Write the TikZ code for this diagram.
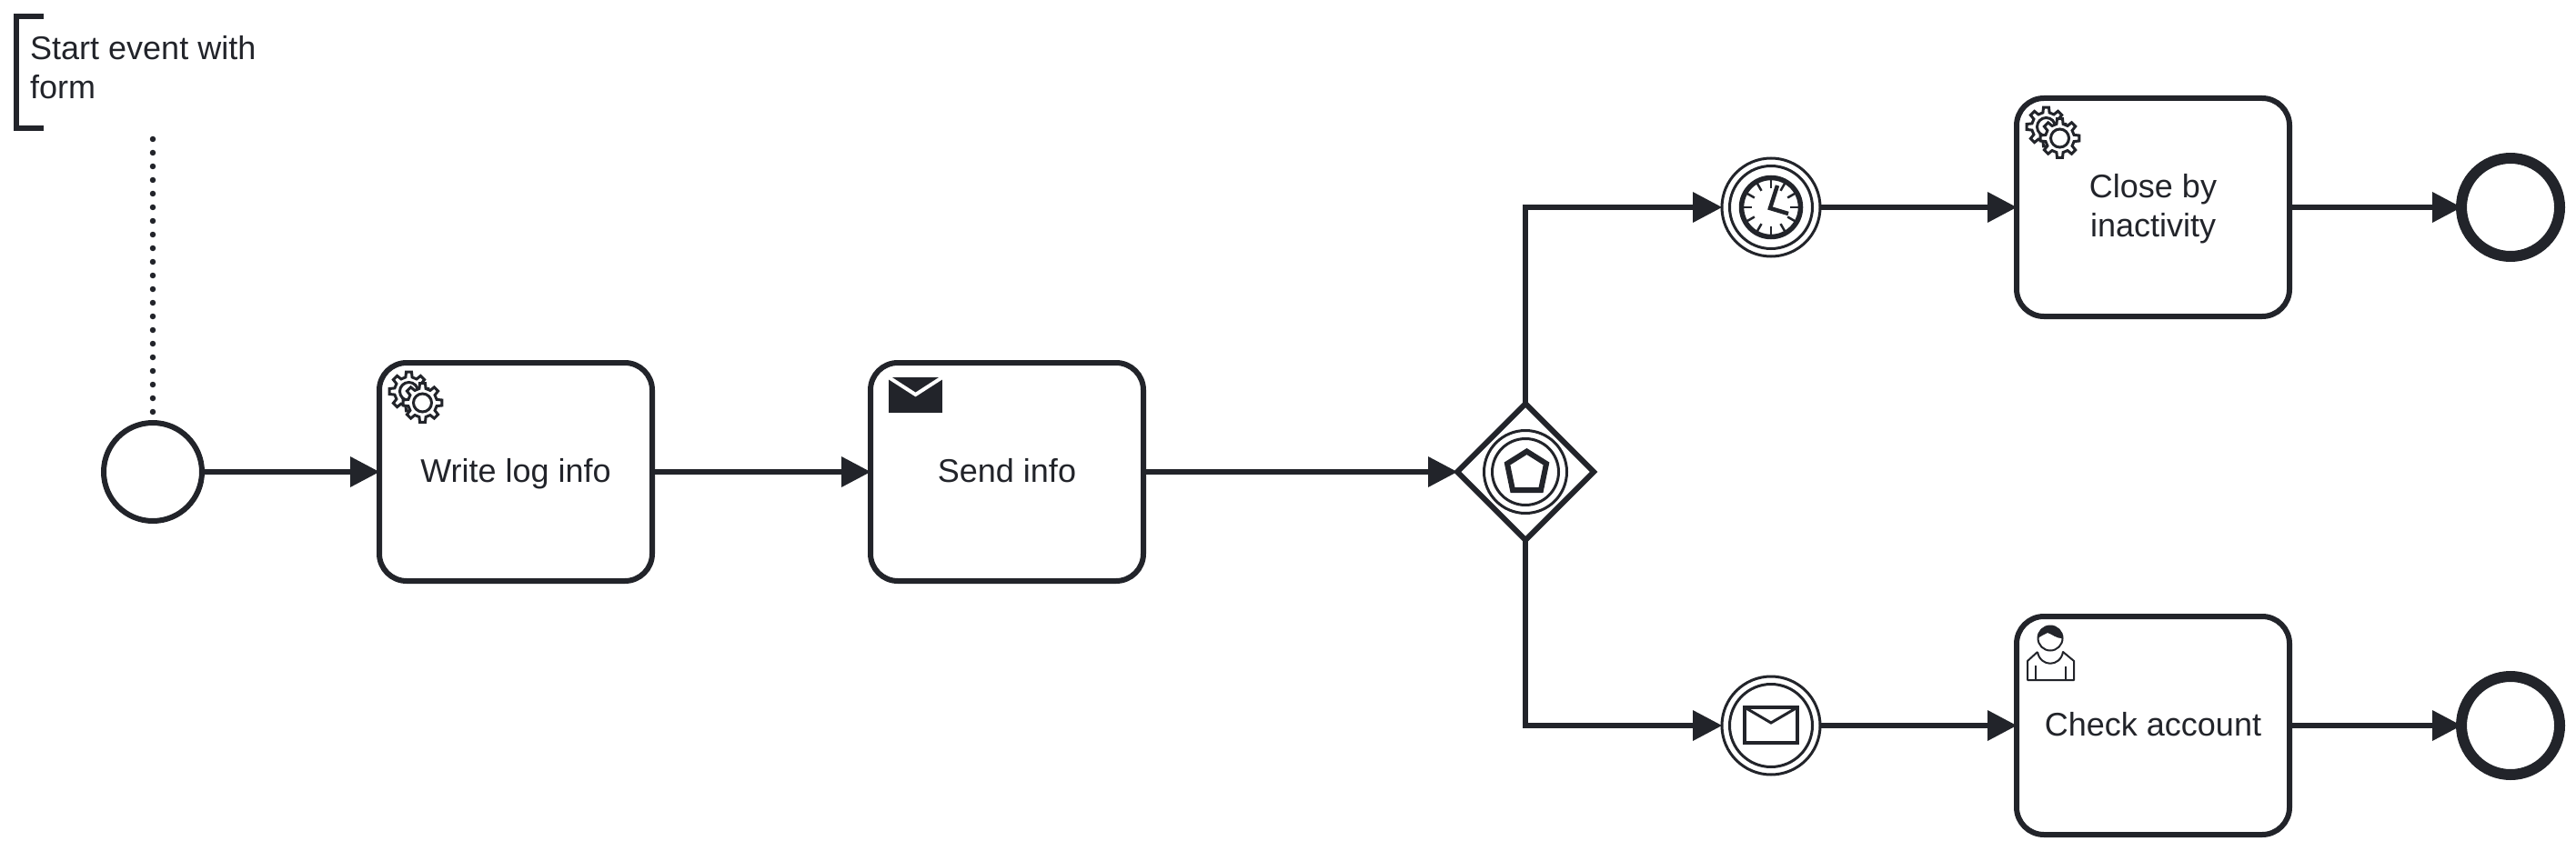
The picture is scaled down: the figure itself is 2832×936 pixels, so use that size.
\documentclass[tikz,border=0pt]{standalone}
\usepackage{fontspec}
\setmainfont{Liberation Sans}
\usetikzlibrary{arrows.meta,shapes.geometric}
\definecolor{ink}{HTML}{22242A}
\tikzset{
  base/.style={draw=ink,fill=white,outer sep=0pt,inner sep=0pt},
  task/.style={base,line width=6pt,rounded corners=30pt,minimum width=300pt,minimum height=240pt,align=center,text=ink,font=\fontsize{36}{43}\selectfont},
  oneline/.style={text height=34pt,text depth=11pt},
  startev/.style={base,circle,line width=6pt,minimum size=108pt},
  endev/.style={base,circle,line width=12pt,minimum size=108pt},
  catchev/.style={base,circle,line width=3pt,minimum size=108pt},
  gatew/.style={base,diamond,aspect=1,line width=6pt,minimum width=150pt,minimum height=150pt},
  flow/.style={draw=ink,line width=6pt,-{Triangle[length=32pt,width=34pt,line width=0pt]}},
  assoc/.style={draw=ink,line width=6.5pt,line cap=round,dash pattern=on 0pt off 15pt},
  thin icon/.style={draw=ink,line width=3pt},
}
\newcommand{\gearicon}[2]{%
  \begin{scope}[shift={(#1,#2)}]
    \draw[thin icon,fill=white,line join=miter]
      (-13:16) \foreach \a in {0,45,...,315}{ -- (\a-13:16) -- (\a-8:21.5) -- (\a+8:21.5) -- (\a+13:16) } -- cycle;
    \draw[thin icon] (0,0) circle[radius=10pt];
  \end{scope}}
\newcommand{\twogears}[1]{%
  \begin{scope}[shift={(#1)}]
    \gearicon{32.5}{31.5}
    \gearicon{47.5}{44}
  \end{scope}}
\begin{document}
\begin{tikzpicture}[x=1pt,y=-1pt]
\useasboundingbox (0,0) rectangle (2832,936);
% annotation
\draw[draw=ink,line width=6pt] (48,18) -- (18,18) -- (18,141) -- (48,141);
\node[anchor=north west,inner sep=0pt,align=left,text=ink,font=\fontsize{36}{43}\selectfont] (note) at (33,39) {Start event with\\form};
\coordinate (noteend) at (168,153);
% nodes
\node[startev] (start) at (168,519) {};
\node[task,oneline] (t1) at (567,519) {Write log info};
\node[task,oneline] (t2) at (1107,519) {Send info};
\node[gatew] (gw) at (1677,519) {};
\node[catchev] (timer) at (1947,228) {};
\node[catchev] (msg) at (1947,798) {};
\node[task] (t3) at (2367,228) {\rule{0pt}{30pt}Close by\\inactivity};
\node[task,oneline] (t4) at (2367,798) {Check account};
\node[endev] (e1) at (2760,228) {};
\node[endev] (e2) at (2760,798) {};
% connectors
\draw[assoc,shorten >=12pt] (noteend) -- (start.north);
\draw[flow] (start.east) -- (t1.west);
\draw[flow] (t1.east) -- (t2.west);
\draw[flow] (t2.east) -- (gw.west);
\draw[flow] (gw.north) |- (timer.west);
\draw[flow] (gw.south) |- (msg.west);
\draw[flow] (timer.east) -- (t3.west);
\draw[flow] (msg.east) -- (t4.west);
\draw[flow] (t3.east) -- (e1.west);
\draw[flow] (t4.east) -- (e2.west);
% task icons
\twogears{t1.north west}
\twogears{t3.north west}
\begin{scope}[shift={(t2.north west)}]
  \fill[ink] (20,16) rectangle (79,55);
  \draw[white,line width=4pt] (20,16) -- (49.5,35) -- (79,16);
\end{scope}
\begin{scope}[shift={(t4.north west)}]
  \draw[draw=ink,line width=2pt,line join=round,fill=white]
    (23,39) -- (12,49) -- (12,70) -- (63,70) -- (63,49) -- (51,39)
    .. controls (48,56) and (26,56) .. (23,39);
  \draw[draw=ink,line width=2pt,fill=white] (37,24) circle[radius=13.5pt];
  \fill[ink] (23.5,24) arc[start angle=180,end angle=360,radius=13.5pt,y radius=-13.5pt]
    .. controls (45,25) and (38,19) .. (34,18) .. controls (30,20) and (26,22) .. (23.5,24) -- cycle;
  \draw[draw=ink,line width=2pt] (20.7,54) -- (20.7,70) (54,55) -- (54,70);
\end{scope}
% gateway marker
\begin{scope}[shift={(gw.center)}]
  \draw[thin icon] (0,0) circle[radius=45.5pt];
  \draw[thin icon] (0,0) circle[radius=36.5pt];
  \draw[draw=ink,line width=6pt,line join=miter] (1.5,-22.5) -- (23,-9) -- (17,20) -- (-14,20) -- (-20,-9) -- cycle;
\end{scope}
% timer marker
\begin{scope}[shift={(timer.center)}]
  \draw[thin icon] (0,0) circle[radius=45.5pt];
  \draw[draw=ink,line width=5.5pt] (0,0) circle[radius=32.5pt];
  \foreach \a in {0,30,...,330}{\draw[draw=ink,line width=2.5pt] (\a:31) -- (\a:21);}
  \draw[draw=ink,line width=4.5pt,line join=miter] (7,-24) -- (-1,1) -- (19,7);
\end{scope}
% message marker
\begin{scope}[shift={(msg.center)}]
  \draw[thin icon] (0,0) circle[radius=45.5pt];
  \draw[draw=ink,line width=4pt] (-29,-20) rectangle (29,19);
  \draw[draw=ink,line width=3pt] (-29,-20) -- (0,-3) -- (29,-20);
\end{scope}
\end{tikzpicture}
\end{document}
